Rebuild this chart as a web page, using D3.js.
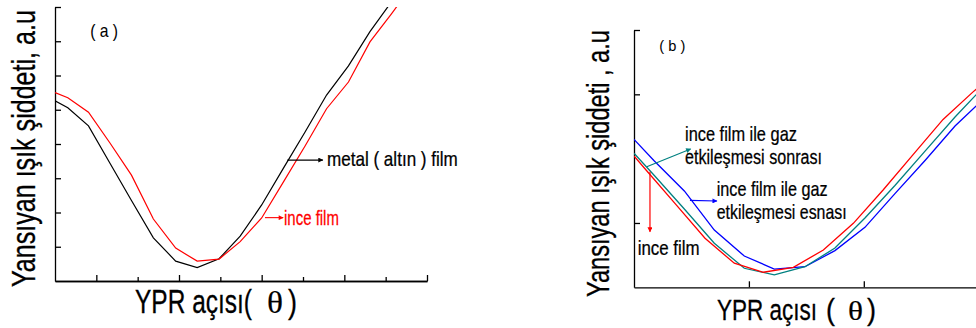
<!DOCTYPE html>
<html><head><meta charset="utf-8">
<script src="https://cdn.jsdelivr.net/npm/d3@7"></script>
<style>html,body{margin:0;padding:0;background:#fff;overflow:hidden}svg{display:block}</style>
</head><body>
<script>
// ---------- Panel (a) data ----------
const aX     = [40.00,40.31,40.81,41.33,41.85,42.38,42.92,43.44,43.97,44.48,45.00,45.52,46.05,46.57,47.10,47.62,48.14,48.67];
const aMetal = [5.26,5.06,4.53,3.44,2.35,1.26,0.58,0.39,0.65,1.31,2.22,3.28,4.35,5.43,6.28,7.28,8.15,9.00];
const aInce  = [5.50,5.35,4.93,4.03,3.09,1.81,0.96,0.58,0.64,1.15,1.84,2.88,3.94,5.03,5.81,6.98,7.80,8.67];
const aXMajor = [41,43,45,47,49];
const aXMinor = [42,44,46,48];
const aYTicks = [1,2,3,4,5,6,7,8];

// ---------- Panel (b) data ----------
const bX      = [0,0.177,0.438,0.699,0.960,1.221,1.488,1.749,2.010,2.271,2.533,2.794,3.055];
const bXRed   = [0,0.101,0.360,0.618,0.873,1.126,1.387,1.648,1.909,2.168,2.429,2.690,2.951,3.212];
const bEsnasi = [1.650,1.482,1.249,0.945,0.743,0.642,0.660,0.785,0.966,1.228,1.486,1.754,1.975];
const bSonrasi= [1.542,1.369,1.109,0.842,0.648,0.596,0.660,0.805,1.039,1.291,1.559,1.824,2.069];
const bInce   = [1.521,1.416,1.149,0.881,0.687,0.617,0.655,0.790,0.997,1.256,1.531,1.805,2.019,2.228];
const bXTicks = [1,2];
const bYTicks = [1,2,2.5];

const W = 976, H = 328;
const svg = d3.select("body").append("svg").attr("width", W).attr("height", H);
const defs = svg.append("defs");
function marker(id, color){
  defs.append("marker").attr("id", id).attr("viewBox","0 0 10 10")
    .attr("refX", 9).attr("refY", 5).attr("markerWidth", 7).attr("markerHeight", 5)
    .attr("markerUnits","userSpaceOnUse").attr("orient","auto")
    .append("path").attr("d","M0,0L10,5L0,10Z").attr("fill", color);
}
marker("mk","#000"); marker("mr","#ff0000"); marker("mt","#008080"); marker("mb","#0000ff");

const FONT = "'Liberation Sans', Arial, sans-serif";
// draws text at (x,y) and compresses it horizontally to the given width
function fit(g, x, y, s, size, width, color, opt){
  opt = opt || {};
  const t = g.append("text").attr("x",0).attr("y",0).text(s)
    .attr("font-family", opt.serif ? "'Liberation Serif', serif" : FONT)
    .attr("font-size", size).attr("fill", color || "#000")
    .attr("stroke", color || "#000").attr("stroke-width", opt.sw == null ? 0.25 : opt.sw);
  const n = t.node().getComputedTextLength();
  const k = width / n;
  t.attr("transform", `translate(${x},${y})${opt.rot ? " rotate(-90)" : ""} scale(${k},1)`);
  return t;
}

// ================= Panel (a) =================
const ax = d3.scaleLinear().domain([40,49]).range([55,427]);
const ay = d3.scaleLinear().domain([0,8]).range([281,7]);
const ga = svg.append("g");
defs.append("clipPath").attr("id","ca").append("rect")
  .attr("x",55).attr("y",7).attr("width",372).attr("height",274);

function axStyle(sel){ sel.selectAll("path,line").attr("stroke","#000").attr("stroke-width",1.3); sel.selectAll("text").remove(); }
ga.append("g").attr("transform","translate(0,281)")
  .call(d3.axisBottom(ax).tickValues(aXMajor).tickSizeInner(-6).tickSizeOuter(0).tickFormat("")).call(axStyle);
ga.append("g").attr("transform","translate(0,281)")
  .call(d3.axisBottom(ax).tickValues(aXMinor).tickSizeInner(-4).tickSizeOuter(0).tickFormat("")).call(axStyle);
ga.append("g").attr("transform","translate(55,0)")
  .call(d3.axisLeft(ay).tickValues(aYTicks).tickSizeInner(-6).tickSizeOuter(0).tickFormat("")).call(axStyle);

const lineA = d3.line().x(d=>ax(d[0])).y(d=>ay(d[1]));
const gaPlot = ga.append("g").attr("clip-path","url(#ca)");
gaPlot.append("path").datum(aX.map((x,i)=>[x,aMetal[i]])).attr("d",lineA)
  .attr("fill","none").attr("stroke","#000").attr("stroke-width",1.2);
gaPlot.append("path").datum(aX.map((x,i)=>[x,aInce[i]])).attr("d",lineA)
  .attr("fill","none").attr("stroke","#ff0000").attr("stroke-width",1.2);

// annotations (a)
fit(ga, ax(40.85), ay(7.12), "( a )", 18, 28, "#000", {sw:0});
ga.append("line").attr("x1",ax(45.62)).attr("y1",ay(3.53)).attr("x2",ax(46.48)).attr("y2",ay(3.53))
  .attr("stroke","#000").attr("stroke-width",1.1).attr("marker-end","url(#mk)");
fit(ga, ax(46.58), ay(3.36), "metal ( altın ) film", 20, 131);
ga.append("line").attr("x1",ax(45.08)).attr("y1",ay(1.85)).attr("x2",ax(45.52)).attr("y2",ay(1.85))
  .attr("stroke","#ff0000").attr("stroke-width",1.1).attr("marker-end","url(#mr)");
fit(ga, ax(45.54), ay(1.64), "ince film", 20, 55, "#ff0000");

// axis titles (a)
fit(ga, 35, 287, "Yansıyan ışık şiddeti, a.u", 33, 277, "#000", {rot:true, sw:0.3});
fit(ga, 135, 313, "YPR açısı(", 33, 117, "#000", {sw:0.3});
fit(ga, 267, 313, "θ", 32, 16, "#000", {serif:true, sw:0.2});
fit(ga, 288, 313, ")", 33, 9, "#000", {sw:0.3});

// ================= Panel (b) =================
const bx = d3.scaleLinear().domain([0,3]).range([634, 634 + 3*114.9]);
const by = d3.scaleLinear().domain([0.5,2.5]).range([287.3,30]);
const gb = svg.append("g");
defs.append("clipPath").attr("id","cb").append("rect")
  .attr("x",634).attr("y",30).attr("width",360).attr("height",258);

gb.append("g").attr("transform","translate(0,287.3)")
  .call(d3.axisBottom(bx).tickValues(bXTicks).tickSizeInner(-6).tickSizeOuter(0).tickFormat("")).call(axStyle);
gb.append("g").attr("transform","translate(634,0)")
  .call(d3.axisLeft(by).tickValues(bYTicks).tickSizeInner(-6).tickSizeOuter(0).tickFormat("")).call(axStyle);

const lineB = d3.line().x(d=>bx(d[0])).y(d=>by(d[1]));
const gbPlot = gb.append("g").attr("clip-path","url(#cb)");
gbPlot.append("path").datum(bX.map((x,i)=>[x,bEsnasi[i]])).attr("d",lineB)
  .attr("fill","none").attr("stroke","#0000ff").attr("stroke-width",1.3);
gbPlot.append("path").datum(bX.map((x,i)=>[x,bSonrasi[i]])).attr("d",lineB)
  .attr("fill","none").attr("stroke","#008080").attr("stroke-width",1.3);
gbPlot.append("path").datum(bXRed.map((x,i)=>[x,bInce[i]])).attr("d",lineB)
  .attr("fill","none").attr("stroke","#ff0000").attr("stroke-width",1.3);

// annotations (b)
fit(gb, bx(0.22), by(2.34), "( b )", 15, 26, "#000", {sw:0});
gb.append("line").attr("x1",bx(0.111)).attr("y1",by(1.437)).attr("x2",bx(0.493)).attr("y2",by(1.575))
  .attr("stroke","#008080").attr("stroke-width",1.2).attr("marker-end","url(#mt)");
fit(gb, bx(0.444), by(1.640), "ince film ile gaz", 20, 112);
fit(gb, bx(0.444), by(1.458), "etkileşmesi sonrası", 20, 137);
gb.append("line").attr("x1",bx(0.487)).attr("y1",by(1.175)).attr("x2",bx(0.722)).attr("y2",by(1.171))
  .attr("stroke","#0000ff").attr("stroke-width",1.2).attr("marker-end","url(#mb)");
fit(gb, bx(0.720), by(1.212), "ince film ile gaz", 20, 111);
fit(gb, bx(0.720), by(1.031), "etkileşmesi esnası", 20, 130);
gb.append("line").attr("x1",bx(0.139)).attr("y1",by(1.399)).attr("x2",bx(0.139)).attr("y2",by(0.932))
  .attr("stroke","#ff0000").attr("stroke-width",1.2).attr("marker-end","url(#mr)");
fit(gb, bx(0.032), by(0.751), "ince film", 20, 62);

// axis titles (b)
fit(gb, 609, 297, "Yansıyan ışık şiddeti , a.u", 31, 267, "#000", {rot:true, sw:0.3});
fit(gb, 717, 320, "YPR açısı", 29, 100, "#000", {sw:0.3});
fit(gb, 826, 320, "(", 29, 9, "#000", {sw:0.3});
fit(gb, 848, 320, "θ", 28, 15, "#000", {serif:true, sw:0.2});
fit(gb, 867, 320, ")", 29, 9, "#000", {sw:0.3});
</script>
</body></html>
